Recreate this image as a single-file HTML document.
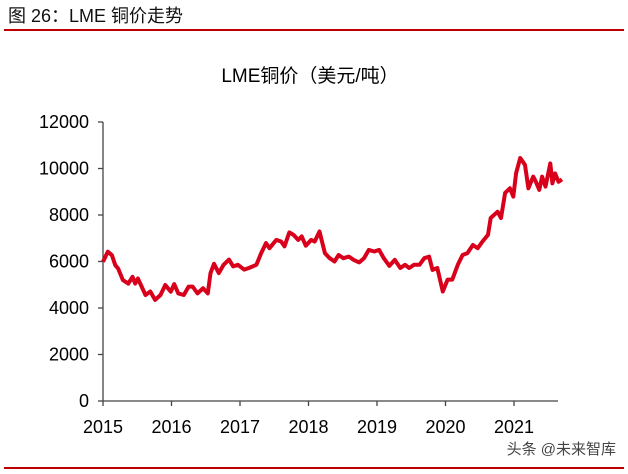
<!DOCTYPE html>
<html><head><meta charset="utf-8"><style>
body{margin:0;width:628px;height:469px;background:#fff;overflow:hidden;font-family:"Liberation Sans","Noto Sans CJK SC",sans-serif}
</style></head><body>
<svg width="628" height="469">
<text x="8" y="22" font-size="18" fill="#111" font-family="Liberation Sans, Noto Sans CJK SC, sans-serif">图 26：LME 铜价走势</text>
<rect x="4" y="29" width="620" height="2" fill="#c00000"/>
<rect x="4" y="467" width="620" height="2" fill="#c00000"/>
<text x="310" y="82" font-size="19" text-anchor="middle" fill="#000" font-family="Liberation Sans, Noto Sans CJK SC, sans-serif">LME铜价（美元/吨）</text>
<g id="axes"></g>
<path id="line" fill="none" stroke="#d9001b" stroke-width="4" stroke-linejoin="round"/>
<text x="616" y="454" font-size="15" text-anchor="end" fill="#444" font-family="Liberation Sans, Noto Sans CJK SC, sans-serif">头条 @未来智库</text>
</svg>
<script>
const yearTicks=[2015,2016,2017,2018,2019,2020,2021];
const valueTicks=[0,2000,4000,6000,8000,10000,12000];
const dates=[0,.07,.13,.18,.22,.29,.37,.43,.47,.51,.62,.69,.76,.84,.91,.99,1.04,1.10,1.18,1.25,1.31,1.38,1.46,1.53,1.57,1.62,1.69,1.76,1.84,1.90,1.97,2.06,2.13,2.24,2.31,2.38,2.43,2.53,2.60,2.65,2.72,2.78,2.85,2.90,2.96,3.04,3.09,3.16,3.24,3.31,3.38,3.44,3.51,3.59,3.66,3.74,3.81,3.88,3.96,4.03,4.10,4.18,4.26,4.34,4.41,4.47,4.54,4.62,4.69,4.76,4.81,4.88,4.96,5.03,5.10,5.18,5.25,5.32,5.40,5.47,5.54,5.62,5.66,5.76,5.81,5.87,5.94,5.99,6.03,6.09,6.13,6.16,6.21,6.28,6.32,6.37,6.41,6.46,6.53,6.56,6.60,6.65,6.70];
const prices=[5990,6420,6270,5840,5700,5200,5050,5340,5050,5270,4560,4710,4350,4560,4990,4700,5030,4630,4560,4920,4920,4630,4850,4630,5500,5900,5500,5860,6080,5790,5860,5650,5720,5860,6360,6790,6570,6930,6860,6650,7250,7150,6930,7080,6680,6930,6860,7290,6360,6140,6000,6280,6140,6210,6070,5960,6140,6500,6430,6500,6140,5810,6070,5720,5860,5720,5860,5860,6140,6210,5640,5720,4710,5220,5220,5860,6280,6360,6710,6570,6860,7150,7870,8140,7870,8950,9150,8790,9800,10450,10290,10150,9150,9650,9430,9080,9650,9220,10220,9360,9790,9430,9530];
const X0=103,PX=68.5,Y0=401,PY=279/12000;
const xs=t=>X0+(t-2015)*PX, ys=v=>Y0-v*PY;
const ns="http://www.w3.org/2000/svg";
const ax=document.getElementById('axes');
function mk(tag,attrs,txt){const e=document.createElementNS(ns,tag);for(const k in attrs)e.setAttribute(k,attrs[k]);if(txt!==undefined)e.textContent=txt;ax.appendChild(e);return e;}
let e=mk('line',{x1:X0,y1:ys(12000),x2:X0,y2:Y0,stroke:'#444','stroke-width':1.3});


e=mk('line',{x1:X0,y1:Y0,x2:558,y2:Y0,stroke:'#444','stroke-width':1.3});


valueTicks.forEach(v=>{
  mk('line',{x1:X0-5,y1:ys(v),x2:X0,y2:ys(v),stroke:'#444','stroke-width':1.3});
  const t=mk('text',{x:X0-14,y:ys(v)+6,'font-size':18,'text-anchor':'end',fill:'#000'},v);
  
  
});
yearTicks.forEach(y=>{
  mk('line',{x1:xs(y),y1:Y0,x2:xs(y),y2:Y0+5,stroke:'#444','stroke-width':1.3});
  const t=mk('text',{x:xs(y),y:Y0+32,'font-size':18,'text-anchor':'middle',fill:'#000'},y);
  
  
});
document.getElementById('line').setAttribute('d',dates.map((d,i)=>(i?'L':'M')+xs(2015+d).toFixed(1)+','+ys(prices[i]).toFixed(1)).join(''));
</script>
</body></html>
